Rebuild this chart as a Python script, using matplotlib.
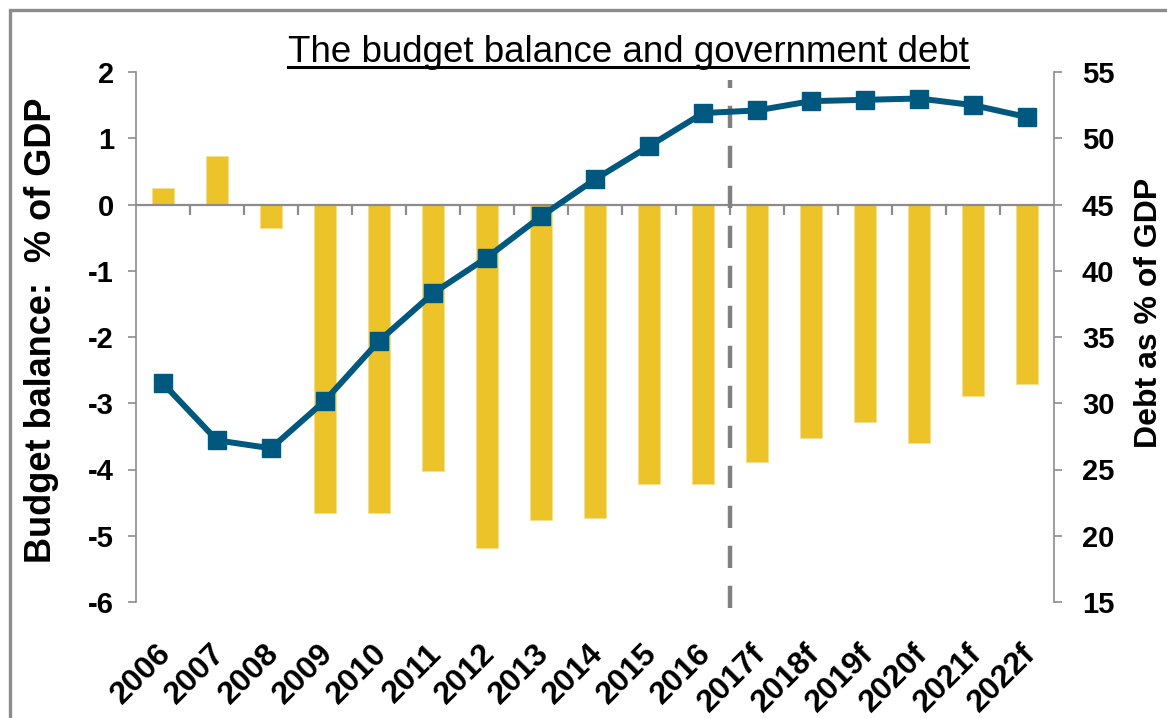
import numpy as np
import matplotlib
matplotlib.use("Agg")
import matplotlib.pyplot as plt
from matplotlib.patches import Rectangle
from matplotlib.lines import Line2D
import matplotlib.transforms as mtransforms

years = ["2006", "2007", "2008", "2009", "2010", "2011", "2012", "2013", "2014",
         "2015", "2016", "2017f", "2018f", "2019f", "2020f", "2021f", "2022f"]
balance = [0.25, 0.73, -0.35, -4.65, -4.65, -4.02, -5.19, -4.76, -4.73,
           -4.22, -4.22, -3.88, -3.53, -3.28, -3.60, -2.89, -2.71]
debt = [31.5, 27.2, 26.6, 30.2, 34.7, 38.3, 41.0, 44.1, 46.9,
        49.4, 51.9, 52.1, 52.8, 52.9, 53.0, 52.5, 51.6]
forecast_start = 11  # first forecast year index

bar_col = "#EDC32A"
line_col = "#00587F"
grey = "#8C8C8C"

plt.rcParams["font.family"] = ["Liberation Sans", "DejaVu Sans"]
plt.rcParams["axes.unicode_minus"] = False

W, H = 1167, 718
fig = plt.figure(figsize=(W / 100, H / 100), dpi=100)
ax = fig.add_axes([136 / W, 1 - 602 / H, 918 / W, 530 / H])
ax2 = ax.twinx()

x = np.arange(len(years))
ax.bar(x, balance, width=0.4, color=bar_col, edgecolor="#F6DF8C", linewidth=0.6, zorder=2)
ax.set_xlim(-0.5, len(years) - 0.5)
ax.set_ylim(-6, 2)
ax.set_yticks(range(-6, 3))

# zero line with category boundary ticks hanging below it
ax.axhline(0, color=grey, lw=1.6, zorder=3)
bounds = np.arange(len(years) + 1) - 0.5
ax.vlines(bounds[1:-1], -0.16, 0, color=grey, lw=1.6, zorder=3)

ax2.plot(x, debt, color=line_col, lw=4.3, marker="s", markersize=13, zorder=4)
ax2.set_ylim(15, 55)
ax2.set_yticks(range(15, 56, 5))
ax2.axvline(forecast_start - 0.5, ymin=-0.012, ymax=0.985, color="#808080", lw=3.2,
            linestyle=(0, (5, 4)), clip_on=False, zorder=3)

for a in (ax, ax2):
    for s in ("top", "bottom"):
        a.spines[s].set_visible(False)
ax.spines["right"].set_visible(False)
ax2.spines["left"].set_visible(False)
ax.spines["left"].set_color(grey)
ax.spines["left"].set_linewidth(1.2)
ax2.spines["right"].set_color(grey)
ax2.spines["right"].set_linewidth(1.2)

ax.tick_params(axis="y", colors=grey, length=6, width=1.2, labelsize=21, pad=10,
               labelcolor="black")
ax2.tick_params(axis="y", colors=grey, length=6, width=1.2, labelsize=21, pad=14,
                labelcolor="black")
for lab in ax.get_yticklabels() + ax2.get_yticklabels():
    lab.set_fontweight("bold")

ax.set_xticks(x)
ax.set_xticklabels(years, rotation=45, ha="right", va="center",
                   rotation_mode="anchor", fontsize=23, fontweight="bold")
ax.tick_params(axis="x", length=0, pad=34)
shift = mtransforms.ScaledTranslation(4 / 100, 0, fig.dpi_scale_trans)
for lab in ax.get_xticklabels():
    lab.set_transform(lab.get_transform() + shift)

fig.text(42 / W, 1 - 330 / H, "Budget balance:  % of GDP", rotation=90,
         ha="center", va="center", fontsize=26, fontweight="bold")
fig.text(1134 / W, 1 - 313 / H, "Debt as % of GDP", rotation=90,
         ha="left", va="center", fontsize=23, fontweight="bold")

title = fig.text(628 / W, 1 - 62 / H, "The budget balance and government debt",
                 ha="center", va="baseline", fontsize=26.5)

# underline the title
fig.canvas.draw()
bb = title.get_window_extent().transformed(fig.transFigure.inverted())
uy = 1 - 67 / H
fig.lines.append(Line2D([bb.x0, bb.x1], [uy, uy], transform=fig.transFigure,
                        color="black", lw=2.2))

# outer frame
fig.patches.append(Rectangle((10 / W, -0.1), 1.2, 1 - 10 / H + 0.1,
                             transform=fig.transFigure, fill=False,
                             edgecolor=grey, linewidth=2.4))

fig.savefig("out.png", dpi=100)
